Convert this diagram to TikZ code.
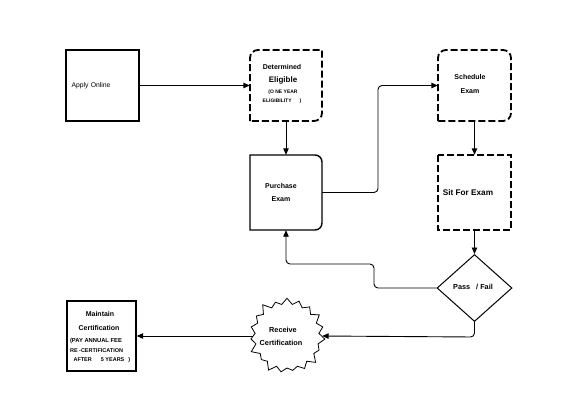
\documentclass[tikz,border=0pt]{standalone}
\usepackage{fontspec}
\setmainfont{Liberation Sans}
\usetikzlibrary{shapes.geometric,shapes.symbols,arrows.meta}
\begin{document}
\begin{tikzpicture}[x=1pt,y=-1pt,
 box/.style={minimum width=72pt,minimum height=71pt,inner sep=0pt,align=center,font=\bfseries\fontsize{7}{13}\selectfont},
 solidline/.style={line width=1.4pt},
 dashline/.style={line width=1.8pt,dash pattern=on 7pt off 3pt},
 conn/.style={line width=0.9pt,-{Triangle[length=6.5pt,width=5.5pt]},rounded corners=4pt},
 small/.style={font=\bfseries\fontsize{5}{8}\selectfont}
]
\fill[white] (0,0) rectangle (580,400);

% Apply Online
\node[box,draw,solidline,minimum width=73pt,text width=62pt,align=left,font=\fontsize{6.8}{8}\selectfont] (apply) at (102.5,85.5) {Apply Online};

% Determined Eligible
\node[box,minimum width=72pt] (det) at (286,85.5) {};
\draw[dashline] (250,121) [rounded corners=8pt] -- (250,50) [sharp corners] -- (322,50) [rounded corners=8pt] -- (322,121) [sharp corners] -- cycle;
\node[font=\bfseries\fontsize{7}{8}\selectfont] (detA) at (282,67) {Determined};
\node[font=\bfseries\fontsize{8}{8}\selectfont] (detB) at (283,80.5) {Eligible};
\node[small] (detC) at (283,92.5) {(O NE YEAR};
\node[small] (detD) at (282,101.5) {ELIGIBILITY\hspace{8pt})};

% Schedule Exam
\node[box,minimum width=73pt] (sch) at (474.5,85.5) {};
\node[font=\bfseries\fontsize{7}{8}\selectfont] (schA) at (470,77) {Schedule};
\node[font=\bfseries\fontsize{7}{8}\selectfont] (schB) at (470,91) {Exam};
\draw[dashline] (438,121) [rounded corners=8pt] -- (438,50) -- (511,50) -- (511,121) [sharp corners] -- cycle;

% Sit For Exam
\node[box,minimum width=73pt,minimum height=75pt] (sit) at (474.5,192.5) {};
\node[font=\bfseries\fontsize{8.2}{8}\selectfont] (sitA) at (468,193) {Sit For Exam};
\draw[dashline] (438,155) rectangle (511,230);

% Purchase Exam
\node[box,minimum width=72pt,minimum height=75pt] (pur) at (286,192.5) {};
\node[font=\bfseries\fontsize{7}{8}\selectfont] (purA) at (281,186) {Purchase};
\node[font=\bfseries\fontsize{7}{8}\selectfont] (purB) at (281,199) {Exam};
\draw[solidline] (250,230) -- (250,155) [rounded corners=7pt] -- (322,155) -- (322,230) [sharp corners] -- cycle;

% Pass / Fail
\node[diamond,draw,line width=1pt,minimum width=75pt,minimum height=67pt,inner sep=0pt] (pf) at (474.5,288) {};
\node[font=\bfseries\fontsize{7.3}{8}\selectfont] (pfA) at (473,287) {Pass\hspace{6pt}/ Fail};

% Receive Certification
\node[starburst,draw,line width=0.8pt,starburst points=19,starburst point height=8pt,minimum width=80pt,minimum height=80pt,inner sep=0pt] (rec) at (287,336) {};
\node[font=\bfseries\fontsize{7.3}{8}\selectfont] (recA) at (283,330) {Receive};
\node[font=\bfseries\fontsize{7.3}{8}\selectfont] (recB) at (281,343) {Certification};

% Maintain Certification
\node[box,draw,solidline,minimum width=69pt,minimum height=70pt] (maint) at (101.5,336) {};
\node[font=\bfseries\fontsize{7}{8}\selectfont] (mA) at (100,314) {Maintain};
\node[font=\bfseries\fontsize{7}{8}\selectfont] (mB) at (99,328) {Certification};
\node[font=\bfseries\fontsize{5.8}{8}\selectfont,anchor=west] (mC) at (66.5,341) {(PAY ANNUAL FEE\hspace{13pt})};
\node[font=\bfseries\fontsize{5.5}{8}\selectfont,anchor=west] (mD) at (66.5,350.5) {RE -CERTIFICATION};
\node[font=\bfseries\fontsize{5.5}{8}\selectfont,anchor=west] (mE) at (70,360) {AFTER\hspace{9pt}5 YEARS\hspace{4pt})};

% connectors
\draw[conn] (apply.east) -- (det.west);
\draw[conn] (det.south) -- (pur.north);
\draw[conn] (pur.east) -- (378,192.5) -- (378,85.5) -- (sch.west);
\draw[conn] (sch.south) -- (sit.north);
\draw[conn] (sit.south) -- (pf.north);
\draw[conn] (pf.west) -- (374,288) -- (374,264) -- (286,264) -- (pur.south);
\draw[conn] (pf.south) -- (474.5,337) -- (rec.east);
\draw[conn] (rec.west) -- (maint.east);
\end{tikzpicture}
\end{document}
